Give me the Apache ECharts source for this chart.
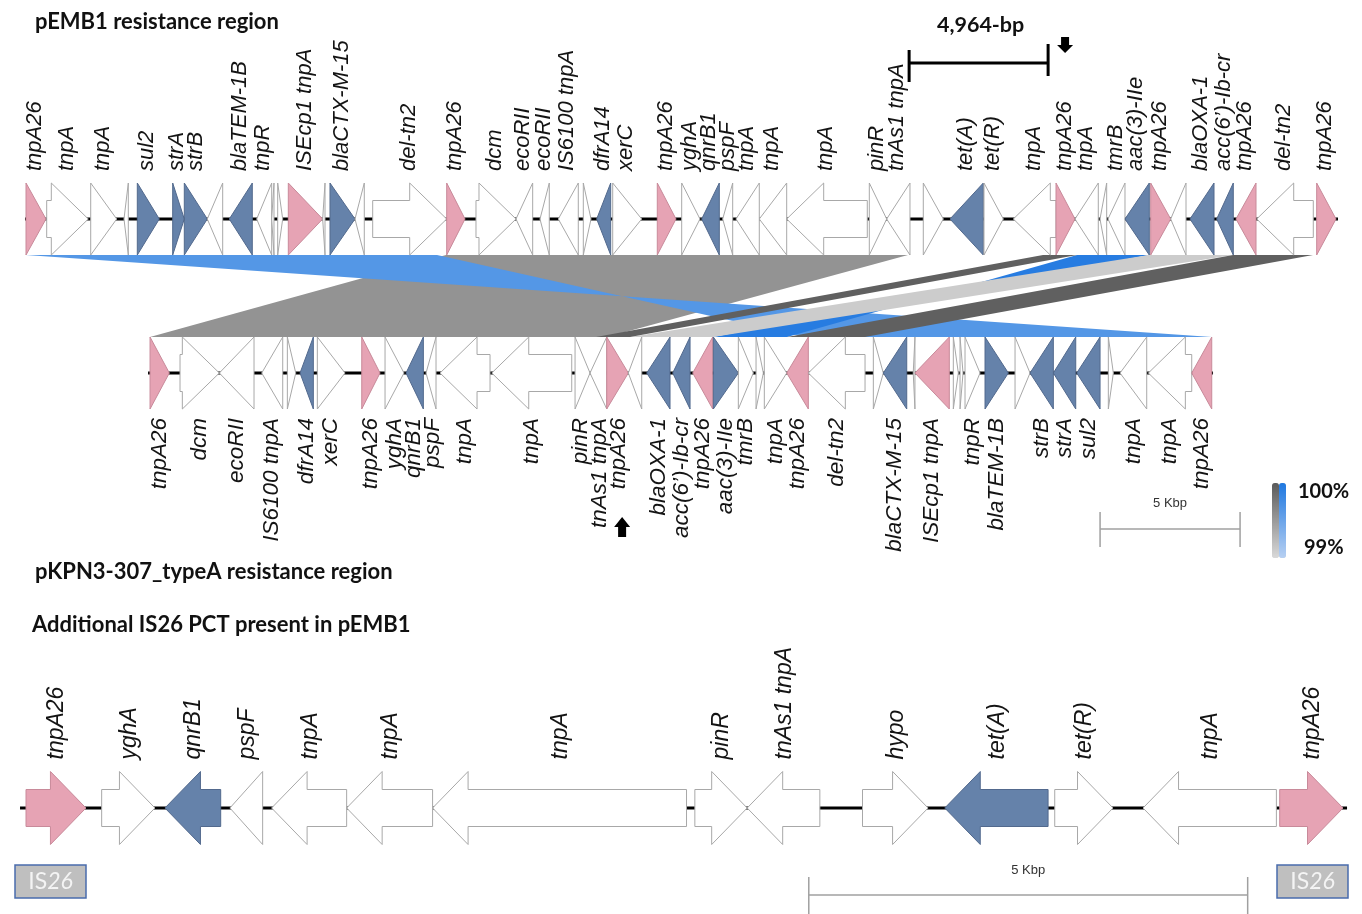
<!DOCTYPE html>
<html>
<head>
<meta charset="utf-8">
<title>pEMB1 vs pKPN3-307_typeA resistance regions</title>
<script src="https://cdn.jsdelivr.net/npm/echarts@6/dist/echarts.min.js"></script>
<style>
  html, body { margin: 0; padding: 0; background: #ffffff; }
  #chart { width: 1362px; height: 914px; }
</style>
</head>
<body>
<div id="chart"></div>
<script>
// Gene tables: [start bp, end bp, strand, kind, label]
// kind: 'w' = other CDS, 'p' = IS26 transposase, 'b' = resistance gene
const pEMB1Genes = [
  [0, 714, 1, 'p', 'tnpA26'],
  [739, 2225, 1, 'w', 'tnpA'],
  [2311, 3239, 1, 'w', 'tnpA'],
  [3500, 3654, -1, 'w', ''],
  [3975, 4761, 1, 'b', 'sul2'],
  [5239, 5654, 1, 'b', 'strA'],
  [5654, 6475, 1, 'b', 'strB'],
  [6475, 7025, -1, 'w', ''],
  [7261, 8082, -1, 'b', 'blaTEM-1B'],
  [8239, 8775, -1, 'w', 'tnpR'],
  [8775, 8857, -1, 'w', ''],
  [8989, 9168, 1, 'w', ''],
  [9368, 10596, 1, 'p', 'ISEcp1 tnpA'],
  [10596, 10679, -1, 'w', ''],
  [10857, 11750, 1, 'b', 'blaCTX-M-15'],
  [11750, 12082, -1, 'w', ''],
  [12382, 15025, 1, 'w', 'del-tn2'],
  [15025, 15679, 1, 'p', 'tnpA26'],
  [16071, 17500, 1, 'w', 'dcm'],
  [17500, 18096, -1, 'w', 'ecoRII'],
  [18357, 18689, -1, 'w', 'ecoRII'],
  [19011, 19725, -1, 'w', 'IS6100 tnpA'],
  [19904, 20179, 1, 'w', ''],
  [20382, 20882, -1, 'b', 'dfrA14'],
  [20954, 21989, 1, 'w', 'xerC'],
  [22546, 23214, 1, 'p', 'tnpA26'],
  [23418, 24071, 1, 'w', 'yghA'],
  [24132, 24761, -1, 'b', 'qnrB1'],
  [24882, 25239, -1, 'w', 'pspF'],
  [25357, 26189, -1, 'w', 'tnpA'],
  [26189, 27168, -1, 'w', 'tnpA'],
  [27168, 30046, -1, 'w', 'tnpA'],
  [30118, 30739, 1, 'w', 'pinR'],
  [30739, 31571, -1, 'w', 'tnAs1 tnpA'],
  [32046, 32761, 1, 'w', ''],
  [33000, 34189, -1, 'b', 'tet(A)'],
  [34214, 34904, 1, 'w', 'tet(R)'],
  [35261, 36786, -1, 'w', 'tnpA'],
  [36786, 37464, 1, 'p', 'tnpA26'],
  [37464, 38296, -1, 'w', 'tnpA'],
  [38357, 38596, -1, 'w', ''],
  [38643, 39250, -1, 'w', 'tmrB'],
  [39250, 40118, -1, 'b', 'aac(3)-IIe'],
  [40168, 40882, 1, 'p', 'tnpA26'],
  [40882, 41429, -1, 'w', ''],
  [41571, 42429, -1, 'b', 'blaOXA-1'],
  [42525, 43118, -1, 'b', 'acc(6’)-Ib-cr'],
  [43214, 43929, -1, 'p', 'tnpA26'],
  [43954, 45975, -1, 'w', 'del-tn2'],
  [46096, 46786, 1, 'p', 'tnpA26']
];

const pKPN3Genes = [
  [0, 689, 1, 'p', 'tnpA26'],
  [1071, 2475, 1, 'w', 'dcm'],
  [2475, 3714, -1, 'w', 'ecoRII'],
  [3989, 4739, -1, 'w', 'IS6100 tnpA'],
  [4904, 5204, 1, 'w', ''],
  [5357, 5832, -1, 'b', 'dfrA14'],
  [5975, 6964, 1, 'w', 'xerC'],
  [7561, 8214, 1, 'p', 'tnpA26'],
  [8393, 9071, 1, 'w', 'yghA'],
  [9143, 9761, -1, 'b', 'qnrB1'],
  [9857, 10214, -1, 'w', 'pspF'],
  [10357, 12143, -1, 'w', 'tnpA'],
  [12204, 15061, -1, 'w', 'tnpA'],
  [15179, 15714, 1, 'w', 'pinR'],
  [15714, 16311, -1, 'w', 'tnAs1 tnpA'],
  [16311, 17082, 1, 'p', 'tnpA26'],
  [17082, 17561, -1, 'w', ''],
  [17739, 18571, -1, 'b', 'blaOXA-1'],
  [18668, 19286, -1, 'b', 'acc(6’)-Ib-cr'],
  [19382, 20096, -1, 'p', 'tnpA26'],
  [20118, 21011, 1, 'b', 'aac(3)-IIe'],
  [21011, 21546, 1, 'w', 'tmrB'],
  [21643, 21904, 1, 'w', ''],
  [21939, 22739, 1, 'w', 'tnpA'],
  [22739, 23511, -1, 'p', 'tnpA26'],
  [23511, 25536, -1, 'w', 'del-tn2'],
  [25832, 26189, 1, 'w', ''],
  [26189, 27025, -1, 'b', 'blaCTX-M-15'],
  [27257, 27318, -1, 'w', ''],
  [27318, 28546, -1, 'p', 'ISEcp1 tnpA'],
  [28689, 28868, 1, 'w', ''],
  [28929, 29036, 1, 'w', ''],
  [29107, 29643, 1, 'w', 'tnpR'],
  [29821, 30654, 1, 'b', 'blaTEM-1B'],
  [30893, 31429, 1, 'w', ''],
  [31429, 32261, -1, 'b', 'strB'],
  [32261, 33061, -1, 'b', 'strA'],
  [33096, 33929, -1, 'b', 'sul2'],
  [34225, 34404, 1, 'w', ''],
  [34643, 35596, -1, 'w', 'tnpA'],
  [35654, 37204, -1, 'w', 'tnpA'],
  [37204, 37918, -1, 'p', 'tnpA26']
];

const pctGenes = [
  [0, 683, 1, 'p', 'tnpA26'],
  [862, 1469, 1, 'w', 'yghA'],
  [1583, 2218, -1, 'b', 'qnrB1'],
  [2323, 2696, -1, 'w', 'pspF'],
  [2798, 3653, -1, 'w', 'tnpA'],
  [3653, 4632, -1, 'w', 'tnpA'],
  [4632, 7525, -1, 'w', 'tnpA'],
  [7620, 8216, 1, 'w', 'pinR'],
  [8216, 9044, -1, 'w', 'tnAs1 tnpA'],
  [9530, 10277, 1, 'w', 'hypo'],
  [10467, 11644, -1, 'b', 'tet(A)'],
  [11720, 12384, 1, 'w', 'tet(R)'],
  [12726, 14245, -1, 'w', 'tnpA'],
  [14283, 15004, 1, 'p', 'tnpA26']
];

// Sequence extents (bp) of each backbone
const pEMB1Span = [-36, 46857];
const pKPN3Span = [-71, 37964];
const pctSpan = [-68, 15050];

// BLASTn hits pEMB1 -> pKPN3-307_typeA:
// [pEMB1 start, pEMB1 end, pKPN3 start, pKPN3 end, identity %]
const directHitsMain = [
  [15000, 31500, 0, 16321, 99.55]
];
const invertedHits = [
  [0, 14680, 23393, 37918, 99.65],
  [37536, 40107, 20107, 22750, 99.95]
];
const directHitsMinor = [
  [40107, 43107, 17143, 20107, 99.10],
  [36321, 37536, 15929, 17143, 99.95],
  [43107, 45964, 22750, 25536, 99.95]
];

// Extra segment of pEMB1 absent from pKPN3 (bp)
const extraSegment = [[31540, 36504]];
const extraSegmentLabel = '4,964-bp';
// Insertion points marked with arrows
const insertionMarks = { pEMB1: [37110], pKPN3: [16860] };
// Scale bar length (bp)
const scaleBarLength = 5000;

// ---------------------------------------------------------------
const pKPN3Offset = 4430;      // alignment shift of the second sequence on the shared axis
const TOP_Y = 1, MID_Y = 0;    // track lanes on the comparison grid

const kindStyle = {
  w: { fill: '#ffffff', stroke: '#a8a8a8' },
  p: { fill: '#e6a3b4', stroke: '#c88a9a' },
  b: { fill: '#6582aa', stroke: '#52698d' }
};
const LABEL_FONT = '"Liberation Sans", Arial, sans-serif';
const TITLE_FONT = 'Lato, "Open Sans", sans-serif';

function arrowPoints(x1, x2, cy, strand, H, h, head) {
  const len = x2 - x1;
  if (strand > 0) {
    if (len <= head) return [[x1, cy - H], [x2, cy], [x1, cy + H]];
    const b = x2 - head;
    return [[x1, cy - h], [b, cy - h], [b, cy - H], [x2, cy], [b, cy + H], [b, cy + h], [x1, cy + h]];
  }
  if (len <= head) return [[x2, cy - H], [x1, cy], [x2, cy + H]];
  const b = x1 + head;
  return [[x2, cy - h], [b, cy - h], [b, cy - H], [x1, cy], [b, cy + H], [b, cy + h], [x2, cy + h]];
}

// Spread label anchors (in bp) so neighbouring rotated labels keep a minimum gap
function spreadLabels(genes, gapBp) {
  const idx = [];
  genes.forEach((g, i) => { if (g[4]) idx.push(i); });
  const pos = idx.map(i => (genes[i][0] + genes[i][1]) / 2);
  for (let it = 0; it < 200; it++) {
    let moved = false;
    for (let k = 1; k < pos.length; k++) {
      const d = pos[k] - pos[k - 1];
      if (d < gapBp - 1e-6) {
        const s = (gapBp - d) / 2;
        pos[k - 1] -= s; pos[k] += s; moved = true;
      }
    }
    if (!moved) break;
  }
  const out = {};
  idx.forEach((i, k) => { out[i] = pos[k]; });
  return out;
}

function backboneSeries(span, o) {
  return {
    type: 'custom', xAxisIndex: o.grid, yAxisIndex: o.grid, z: 2, silent: true,
    data: [[span[0] + o.offset, span[1] + o.offset]],
    renderItem(params, api) {
      const a = api.coord([api.value(0), o.y]);
      const b = api.coord([api.value(1), o.y]);
      return { type: 'line', shape: { x1: a[0], y1: a[1], x2: b[0], y2: b[1] },
        style: { stroke: '#000', lineWidth: 3 } };
    }
  };
}

function geneSeries(genes, o) {
  const labelAt = spreadLabels(genes, o.labelGapBp);
  return {
    type: 'custom', xAxisIndex: o.grid, yAxisIndex: o.grid, z: 3, silent: true,
    data: genes.map((g, i) => [g[0] + o.offset, g[1] + o.offset, (labelAt[i] !== undefined ? labelAt[i] : 0) + o.offset]),
    renderItem(params, api) {
      const g = genes[params.dataIndex];
      const p1 = api.coord([api.value(0), o.y]);
      const p2 = api.coord([api.value(1), o.y]);
      const cy = p1[1];
      const st = kindStyle[g[3]];
      const children = [{
        type: 'polygon',
        shape: { points: arrowPoints(p1[0], p2[0], cy, g[2], o.H, o.h, o.head) },
        style: { fill: st.fill, stroke: st.stroke, lineWidth: 1 }
      }];
      if (g[4]) {
        const above = o.labelSide > 0;
        const lx = api.coord([api.value(2), o.y])[0];
        children.push({
          type: 'text',
          x: lx + o.labelShift,
          y: above ? cy - o.H - o.labelGap : cy + o.H + o.labelGap,
          rotation: Math.PI / 2,
          style: {
            text: g[4], align: above ? 'left' : 'right', verticalAlign: 'middle',
            font: 'italic ' + o.fontSize + 'px ' + LABEL_FONT, fill: '#141414'
          }
        });
      }
      return { type: 'group', children };
    }
  };
}

function ribbonSeries(hits, inverted) {
  return {
    type: 'custom', xAxisIndex: 0, yAxisIndex: 0, z: 1, silent: true,
    data: hits.map(r => r.slice()),
    renderItem(params, api) {
      const t1 = api.coord([api.value(0), TOP_Y]);
      const t2 = api.coord([api.value(1), TOP_Y]);
      const m1 = api.coord([api.value(2) + pKPN3Offset, MID_Y]);
      const m2 = api.coord([api.value(3) + pKPN3Offset, MID_Y]);
      const yt = t1[1] + 36, ym = m1[1] - 36;
      const pts = inverted
        ? [[t1[0], yt], [t2[0], yt], [m1[0], ym], [m2[0], ym]]
        : [[t1[0], yt], [t2[0], yt], [m2[0], ym], [m1[0], ym]];
      return { type: 'polygon', shape: { points: pts }, style: { fill: api.visual('color') } };
    }
  };
}

// 19 px minimum label spacing, expressed in bp for each axis scale
const topOpts = { grid: 0, offset: 0, y: TOP_Y, H: 36, h: 18.5, head: 37, labelSide: 1, labelGap: 12, fontSize: 22, labelShift: -1, labelGapBp: 19 / 0.028 };
const midOpts = { grid: 0, offset: pKPN3Offset, y: MID_Y, H: 36, h: 18.5, head: 37, labelSide: -1, labelGap: 9, fontSize: 22.5, labelShift: 0, labelGapBp: 19 / 0.028 };
const pctOpts = { grid: 1, offset: 0, y: 0, H: 36.5, h: 18.5, head: 35.5, labelSide: 1, labelGap: 12, fontSize: 23, labelShift: 1, labelGapBp: 19 / 0.0878 };

function scaleBarRender(lane, dy, up, down, textDy) {
  return function (params, api) {
    const a = api.coord([api.value(0), lane]);
    const b = api.coord([api.value(1), lane]);
    const y = a[1] + dy;
    const st = { stroke: '#a0a0a0', lineWidth: 1.5 };
    return { type: 'group', children: [
      { type: 'line', shape: { x1: a[0], y1: y, x2: b[0], y2: y }, style: st },
      { type: 'line', shape: { x1: a[0], y1: y - up, x2: a[0], y2: y + down }, style: st },
      { type: 'line', shape: { x1: b[0], y1: y - up, x2: b[0], y2: y + down }, style: st },
      { type: 'text', x: (a[0] + b[0]) / 2, y: a[1] + textDy,
        style: { text: (scaleBarLength / 1000) + ' Kbp', align: 'center', verticalAlign: 'middle',
          font: '13px ' + LABEL_FONT, fill: '#333' } }
    ] };
  };
}

const series = [
  ribbonSeries(directHitsMain, false),   // 0
  ribbonSeries(invertedHits, true),      // 1
  ribbonSeries(directHitsMinor, false),  // 2
  backboneSeries(pEMB1Span, topOpts),
  backboneSeries(pKPN3Span, midOpts),
  backboneSeries(pctSpan, pctOpts),
  geneSeries(pEMB1Genes, topOpts),
  geneSeries(pKPN3Genes, midOpts),
  geneSeries(pctGenes, pctOpts),
  // extra pEMB1 segment bracket
  {
    type: 'custom', xAxisIndex: 0, yAxisIndex: 0, z: 4, silent: true,
    data: extraSegment.map(s => s.slice()),
    renderItem(params, api) {
      const a = api.coord([api.value(0), TOP_Y]);
      const b = api.coord([api.value(1), TOP_Y]);
      const y = a[1] - 156;
      const st = { stroke: '#000', lineWidth: 3 };
      return { type: 'group', children: [
        { type: 'line', shape: { x1: a[0], y1: y, x2: b[0], y2: y }, style: st },
        { type: 'line', shape: { x1: a[0], y1: y - 13, x2: a[0], y2: y + 19 }, style: st },
        { type: 'line', shape: { x1: b[0], y1: y - 19, x2: b[0], y2: y + 13 }, style: st },
        { type: 'text', x: (a[0] + b[0]) / 2 + 2, y: a[1] - 194,
          style: { text: extraSegmentLabel, align: 'center', verticalAlign: 'middle',
            font: 'bold 21.5px ' + TITLE_FONT, fill: '#111' } }
      ] };
    }
  },
  // insertion arrows
  {
    type: 'custom', xAxisIndex: 0, yAxisIndex: 0, z: 4, silent: true,
    data: insertionMarks.pEMB1.map(v => [v, TOP_Y, -1])
      .concat(insertionMarks.pKPN3.map(v => [v + pKPN3Offset, MID_Y, 1])),
    renderItem(params, api) {
      const p = api.coord([api.value(0), api.value(1)]);
      const cx = p[0];
      let pts;
      if (api.value(2) < 0) {
        const y0 = p[1] - 182;
        pts = [[cx - 4, y0], [cx + 4, y0], [cx + 4, y0 + 8], [cx + 8, y0 + 8], [cx, y0 + 16], [cx - 8, y0 + 8], [cx - 4, y0 + 8]];
      } else {
        const y0 = p[1] + 144;
        pts = [[cx, y0], [cx + 8, y0 + 10], [cx + 4, y0 + 10], [cx + 4, y0 + 20], [cx - 4, y0 + 20], [cx - 4, y0 + 10], [cx - 8, y0 + 10]];
      }
      return { type: 'polygon', shape: { points: pts }, style: { fill: '#000' } };
    }
  },
  // scale bars
  {
    type: 'custom', xAxisIndex: 0, yAxisIndex: 0, z: 4, silent: true,
    data: [[38360, 38360 + scaleBarLength]],
    renderItem: scaleBarRender(MID_Y, 156, 17, 18, 130)
  },
  {
    type: 'custom', xAxisIndex: 1, yAxisIndex: 1, z: 4, silent: true,
    data: [[8918, 8918 + scaleBarLength]],
    renderItem: scaleBarRender(0, 87, 18, 19, 62)
  }
];

function is26Box(x, y) {
  return [
    { type: 'rect', shape: { x: x, y: y, width: 71, height: 33 },
      style: { fill: '#bfbfbf', stroke: '#4a6cad', lineWidth: 1.5 } },
    { type: 'text', x: x + 35.5, y: y + 17,
      style: { text: '{a|IS}{b|26}', align: 'center', verticalAlign: 'middle',
        rich: { a: { font: '23px ' + TITLE_FONT, fill: '#f4f4f4' },
                b: { font: 'italic 23px ' + TITLE_FONT, fill: '#f4f4f4' } } } }
  ];
}

const chart = echarts.init(document.getElementById('chart'));
chart.setOption({
  animation: false,
  backgroundColor: '#ffffff',
  grid: [
    { left: 26, right: 26, top: 219, height: 154 },
    { left: 26, right: 19, top: 771.5, height: 73 }
  ],
  xAxis: [
    { type: 'value', gridIndex: 0, min: 0, max: 46786, show: false },
    { type: 'value', gridIndex: 1, min: 0, max: 15004, show: false }
  ],
  yAxis: [
    { type: 'value', gridIndex: 0, min: MID_Y, max: TOP_Y, show: false },
    { type: 'value', gridIndex: 1, min: -1, max: 1, show: false }
  ],
  visualMap: [
    { type: 'continuous', seriesIndex: [0, 2], dimension: 4, min: 99, max: 100,
      inRange: { color: ['#d9d9d9', '#5a5a5a'] }, calculable: false, orient: 'vertical',
      left: 1272, top: 483, itemWidth: 7, itemHeight: 75, padding: 0, hoverLink: false },
    { type: 'continuous', seriesIndex: [1], dimension: 4, min: 99, max: 100,
      inRange: { color: ['#b7d0f2', '#1f78e0'] }, calculable: false, orient: 'vertical',
      left: 1279, top: 483, itemWidth: 7, itemHeight: 75, padding: 0, hoverLink: false }
  ],
  graphic: [
    { type: 'text', x: 35, y: 22, style: { text: 'pEMB1 resistance region', verticalAlign: 'middle', font: 'bold 22px ' + TITLE_FONT, fill: '#111' } },
    { type: 'text', x: 35, y: 572, style: { text: 'pKPN3-307_typeA resistance region', verticalAlign: 'middle', font: 'bold 22px ' + TITLE_FONT, fill: '#111' } },
    { type: 'text', x: 32, y: 625, style: { text: 'Additional IS26 PCT present in pEMB1', verticalAlign: 'middle', font: 'bold 22px ' + TITLE_FONT, fill: '#111' } },
    { type: 'text', x: 1298, y: 492, style: { text: '100%', verticalAlign: 'middle', font: 'bold 20px ' + TITLE_FONT, fill: '#111' } },
    { type: 'text', x: 1304, y: 548, style: { text: '99%', verticalAlign: 'middle', font: 'bold 20px ' + TITLE_FONT, fill: '#111' } }
  ].concat(is26Box(15, 865), is26Box(1277, 865)),
  series: series
});
</script>
</body>
</html>
